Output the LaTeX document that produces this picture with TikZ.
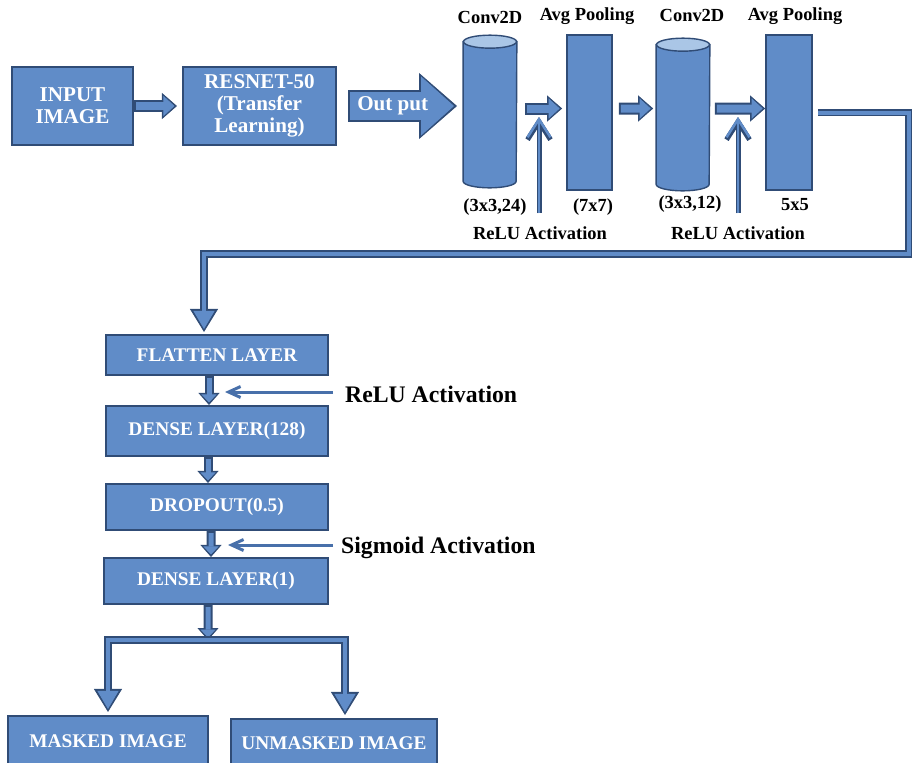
\documentclass[tikz,border=0pt]{standalone}
\usepackage{fontspec}
\setmainfont{Liberation Serif}
\usetikzlibrary{arrows.meta,positioning}

\definecolor{boxblue}{RGB}{96,140,200}
\definecolor{edgeblue}{RGB}{48,76,118}
\definecolor{capblue}{RGB}{170,198,230}
\definecolor{lineblue}{RGB}{72,112,170}

\tikzset{
  layer/.style={draw=edgeblue, line width=1.2pt, fill=boxblue, text=white, align=center, inner sep=0pt},
  toplayer/.style={layer, font=\bfseries\fontsize{12}{12.5}\selectfont},
  collayer/.style={layer, font=\bfseries\fontsize{11}{13}\selectfont},
  conv/.style={inner sep=0pt, minimum width=1.06cm, minimum height=2.78cm},
  cylbody/.style={draw=edgeblue, line width=0.8pt, fill=boxblue},
  cylcap/.style={draw=edgeblue, line width=0.8pt, fill=capblue},
  pool/.style={draw=edgeblue, line width=1pt, fill=boxblue, inner sep=0pt},
  lbl/.style={font=\bfseries\fontsize{10.5}{12}\selectfont, text=black},
  biglbl/.style={font=\bfseries\fontsize{13.5}{16}\selectfont, text=black, anchor=west},
  fat/.style={draw=edgeblue, line width=0.24cm, -{Triangle[length=0.3cm,width=0.52cm,line width=0.5pt]},
    postaction={draw=boxblue, line width=0.16cm, shorten >=0.05cm, shorten <=0.04cm,
      -{Triangle[length=0.22cm,width=0.4cm,line width=0.5pt]}}},
  bigfat/.style={draw=edgeblue, line width=0.64cm, -{Triangle[length=0.76cm,width=1.32cm,line width=0.5pt]},
    postaction={draw=boxblue, line width=0.56cm, shorten >=0.06cm, shorten <=0.04cm,
      -{Triangle[length=0.66cm,width=1.18cm,line width=0.5pt]}}},
  fatv/.style={draw=edgeblue, line width=0.18cm, -{Triangle[length=0.24cm,width=0.42cm,line width=0.5pt]},
    postaction={draw=boxblue, line width=0.1cm, shorten >=0.05cm, shorten <=0.04cm,
      -{Triangle[length=0.16cm,width=0.3cm,line width=0.5pt]}}},
  pipe/.style={draw=edgeblue, line width=0.15cm, -{Triangle[length=0.46cm,width=0.56cm,line width=0.5pt]},
    postaction={draw=boxblue, line width=0.08cm, shorten >=0.06cm,
      -{Triangle[length=0.36cm,width=0.42cm,line width=0.5pt]}}},
  thinv/.style={draw=boxblue, line width=0.05cm, -{Straight Barb[length=0.36cm,width=0.46cm]},
    preaction={draw=edgeblue, line width=0.1cm}},
  thinh/.style={draw=lineblue, line width=0.06cm, -{Straight Barb[length=0.24cm,width=0.22cm]}},
}

\begin{document}
\begin{tikzpicture}[x=0.02cm, y=-0.02cm]
\useasboundingbox (0,0) rectangle (912,762);
\clip (0,0) rectangle (912,762);

% input and transfer learning
\node [toplayer, minimum width=2.42cm, minimum height=1.56cm] (inp) at (72.5,106) {INPUT\\IMAGE};
\node [toplayer, minimum width=3.06cm, minimum height=1.56cm] (res) at (259.5,106) {RESNET-50\\(Transfer\\Learning)};
\coordinate (outend) at (457,106);

% convolution block
\node [conv] (cyl1) at (490,111.5) {};
\node [pool, minimum width=0.9cm, minimum height=3.1cm] (pool1) at (589.5,112.5) {};
\node [conv] (cyl2) at (683,114.5) {};
\node [pool, minimum width=0.92cm, minimum height=3.1cm] (pool2) at (789,112.5) {};
\foreach \c in {cyl1,cyl2} {
  \path [cylbody] (\c.north west) -- (\c.south west)
    arc [start angle=180, end angle=360, x radius=0.53cm, y radius=0.13cm] -- (\c.north east) -- cycle;
  \path [cylcap] (\c.north) ellipse [x radius=0.53cm, y radius=0.13cm];
}

\node [lbl] (c1top) at (490,17) {Conv2D};
\node [lbl] (p1top) at (587,16) {Avg Pooling};
\node [lbl] (c2top) at (692,15) {Conv2D};
\node [lbl] (p2top) at (795,16) {Avg Pooling};
\node [lbl] (c1size) at (495,207) {(3x3,24)};
\node [lbl] (p1size) at (593,207) {(7x7)};
\node [lbl] (c2size) at (690,204) {(3x3,12)};
\node [lbl] (p2size) at (795,205) {5x5};
\node [lbl] (relu1) at (540,233) {ReLU Activation};
\node [lbl] (relu2) at (738,233) {ReLU Activation};
\coordinate (act1) at (539,117);
\coordinate (act2) at (738,117);

% dense head
\node [collayer, minimum width=4.44cm, minimum height=0.8cm] (flat) at (217,355) {FLATTEN LAYER};
\node [collayer, minimum width=4.44cm, minimum height=1.0cm] (d128) at (217,431) {DENSE LAYER(128)};
\node [collayer, minimum width=4.44cm, minimum height=0.92cm] (drop) at (217,507) {DROPOUT(0.5)};
\node [collayer, minimum width=4.48cm, minimum height=0.92cm] (d1) at (216,581) {DENSE LAYER(1)};
\node [collayer, minimum width=4.0cm, minimum height=1.0cm] (mask) at (108,741) {MASKED IMAGE};
\node [collayer, minimum width=4.12cm, minimum height=0.96cm] (unmask) at (334,743) {UNMASKED IMAGE};

\node [biglbl] (relu3) at (339,394) {ReLU Activation};
\node [biglbl] (sigm) at (335,548) {Sigmoid Activation};
\coordinate (act3) at (225,392);
\coordinate (act4) at (228,545);
\coordinate (bend) at (909,254);
\coordinate (split) at (208,640);

% connectors
\draw [fat] (inp) -- ([xshift=-0.1cm]res.west);
\draw [bigfat] ([xshift=0.22cm]res.east) -- node [pos=0.41, text=white, font=\bfseries\fontsize{12}{13}\selectfont] (outp) {Out put} (outend);
\draw [fat] ([xshift=0.16cm,yshift=0.06cm]cyl1.east) -- ([xshift=-0.08cm,yshift=0.08cm]pool1.west);
\draw [fat] ([xshift=0.12cm,yshift=0.08cm]pool1.east) -- ([xshift=-0.06cm,yshift=0.12cm]cyl2.west);
\draw [fat] ([xshift=0.1cm,yshift=0.12cm]cyl2.east) -- ([yshift=0.08cm]pool2.west);
\draw [thinv, shorten <=0.14cm] (relu1.north -| act1) -- (act1);
\draw [thinv, shorten <=0.14cm] (relu2.north -| act2) -- (act2);

\draw [pipe] ([xshift=0.1cm]pool2.east) -| (bend) -| ([xshift=-0.26cm,yshift=0.04cm]flat.north);
\draw [fatv] ([xshift=-0.16cm]flat.south) -- ([xshift=-0.16cm]d128.north);
\draw [fatv] ([xshift=-0.18cm]d128.south) -- ([xshift=-0.18cm]drop.north);
\draw [fatv] ([xshift=-0.12cm]drop.south) -- ([xshift=-0.1cm]d1.north);
\draw [thinh, shorten <=0.12cm] (relu3.west |- act3) -- (act3);
\draw [thinh, shorten <=0.04cm] (sigm.west |- act4) -- (act4);

\draw [fatv] ([xshift=-0.16cm]d1.south) -- (split);
\draw [pipe] (split) -| ([yshift=0.06cm]mask.north);
\draw [pipe] (split) -| ([xshift=0.22cm,yshift=0.06cm]unmask.north);

\end{tikzpicture}
\end{document}
